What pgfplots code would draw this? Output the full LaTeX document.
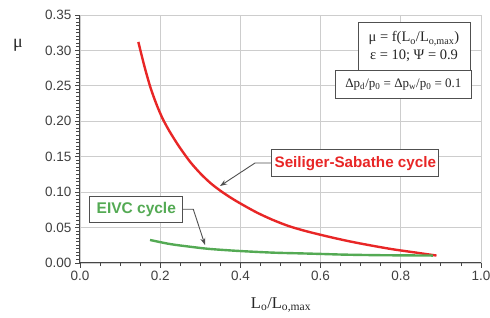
\documentclass[border=0pt]{standalone}
\usepackage{fontspec}
\setmainfont{Liberation Sans}
\newfontfamily\seriffont{Liberation Serif}
\usepackage{pgfplots}
\pgfplotsset{compat=1.18}
\usetikzlibrary{arrows.meta}
\definecolor{cred}{RGB}{232,38,38}
\definecolor{cgreen}{RGB}{84,170,84}
\definecolor{cgrid}{RGB}{205,205,205}
\definecolor{caxis}{RGB}{70,70,70}
\definecolor{cbox}{RGB}{80,80,80}
\begin{document}
\begin{tikzpicture}
\useasboundingbox (-80pt,-55pt) rectangle (410pt,263pt);
\begin{axis}[
  at={(0pt,0pt)}, anchor=south west,
  scale only axis, width=401pt, height=248pt,
  xmin=0, xmax=1, ymin=0, ymax=0.35,
  xtick={0,0.2,0.4,0.6,0.8,1.0},
  ytick={0,0.05,0.10,0.15,0.20,0.25,0.30,0.35},
  minor x tick num=3, minor y tick num=9,
  axis x line*=bottom, axis y line*=left,
  axis line style={caxis, line width=1pt, -},
  tick align=outside,
  major tick length=5pt, minor tick length=3.5pt,
  every tick/.style={caxis, line width=0.9pt},
  grid=major, major grid style={cgrid, line width=0.8pt},
  /pgf/number format/assume math mode=true,
  xticklabel style={/pgf/number format/.cd, fixed, fixed zerofill, precision=1},
  yticklabel style={/pgf/number format/.cd, fixed, fixed zerofill, precision=2},
  tick label style={font=\fontsize{13.5}{15}\selectfont, text=black!75},
  clip=false,
]
\addplot[cred, line width=2.4pt, smooth] coordinates {
(0.1455,0.312) (0.160,0.279) (0.175,0.249) (0.190,0.225) (0.205,0.205)
(0.220,0.189) (0.235,0.175) (0.250,0.162) (0.275,0.1425) (0.300,0.1265)
(0.325,0.1130) (0.350,0.1020) (0.375,0.0925) (0.400,0.0840) (0.440,0.0715)
(0.480,0.0610) (0.520,0.0522) (0.560,0.0455) (0.600,0.0398) (0.640,0.0345)
(0.690,0.0285) (0.773,0.0200) (0.840,0.0145) (0.889,0.0105)
};
\addplot[cgreen, line width=2.4pt, smooth] coordinates {
(0.1746,0.0325) (0.224,0.0268) (0.274,0.0230) (0.324,0.0198) (0.399,0.0169)
(0.482,0.0146) (0.549,0.0136) (0.60,0.0128) (0.66,0.0118) (0.75,0.0110)
(0.88,0.0105)
};
\end{axis}
% axis labels
\node[font=\seriffont\fontsize{18}{20}\selectfont, text=black!85] at (-62pt,218pt) {μ};
\node[font=\seriffont\fontsize{16.5}{18}\selectfont, text=black!85] at (201pt,-42pt) {L\textsubscript{o}/L\textsubscript{o,max}};
% info boxes
\node[draw=cbox, line width=1pt, fill=white, minimum width=112pt, minimum height=48pt,
      align=center, inner sep=2pt, font=\seriffont\fontsize{14.5}{18}\selectfont, text=black!85]
      at (334pt,216pt) {μ = f(L\textsubscript{o}/L\textsubscript{o,max})\\ ε = 10; Ψ = 0.9};
\node[draw=cbox, line width=1pt, fill=white, minimum width=136.7pt, minimum height=27.6pt,
      inner sep=2pt, font=\seriffont\fontsize{13}{15}\selectfont, text=black!85]
      at (323.4pt,178.5pt) {Δp\textsubscript{d}/p\textsubscript{0} = Δp\textsubscript{w}/p\textsubscript{0} = 0.1};
% curve labels
\draw[cbox, line width=0.9pt, -{Stealth[length=7pt,width=5pt]}] (191.7pt,100pt) -- (175pt,100pt) -- (140pt,77pt);
\node[draw=cbox, line width=1pt, fill=white, minimum width=167pt, minimum height=26.7pt,
      inner sep=2pt, font=\bfseries\fontsize{15.2}{17}\selectfont, text=cred]
      at (275.3pt,99.7pt) {Seiliger-Sabathe cycle};
\draw[cbox, line width=0.9pt, -{Stealth[length=7pt,width=5pt]}] (102.7pt,53.7pt) -- (113.3pt,53.7pt) -- (125pt,18pt);
\node[draw=cbox, line width=1pt, fill=white, minimum width=92.7pt, minimum height=25.6pt,
      inner sep=2pt, font=\bfseries\fontsize{15.5}{17}\selectfont, text=cgreen]
      at (56.3pt,53.5pt) {EIVC cycle};
\end{tikzpicture}
\end{document}
